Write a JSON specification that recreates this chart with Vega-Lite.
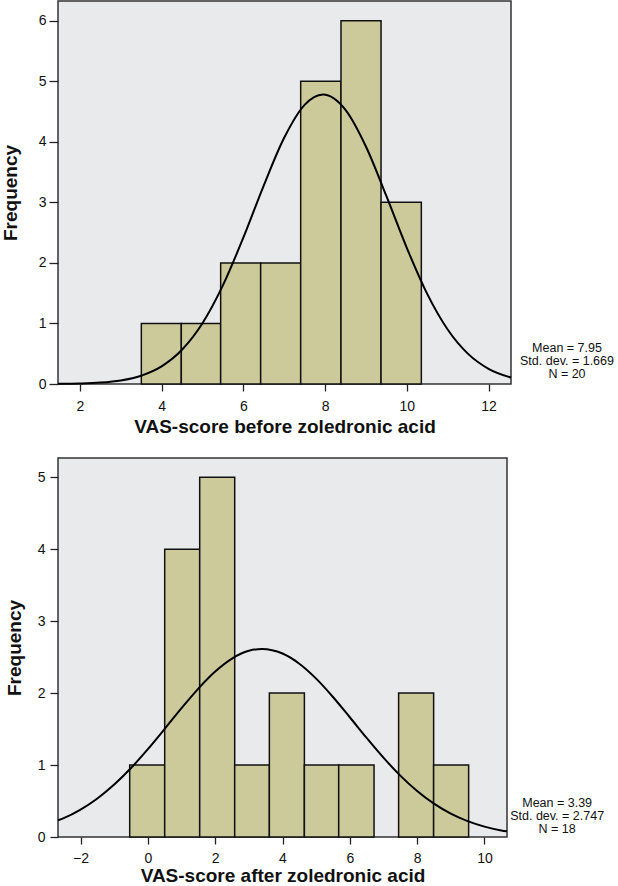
{
  "$schema": "https://vega.github.io/schema/vega-lite/v6.json",
  "padding": 0,
  "background": "white",
  "columns": 1,
  "spacing": 20,
  "config": {
    "font": "Liberation Sans",
    "view": {"stroke": "#333333", "strokeWidth": 1.5, "fill": "#E9EAEC"},
    "axis": {
      "domain": false,
      "grid": false,
      "tickColor": "#222222",
      "tickWidth": 1.3,
      "labelFont": "Liberation Sans",
      "labelFontSize": 14,
      "labelColor": "#111111",
      "titleFont": "Liberation Sans",
      "titleFontSize": 19,
      "titleFontWeight": "bold",
      "titleColor": "#111111"
    }
  },
  "datasets": {
    "before_bins": [
      {"start": 3.505, "end": 4.483, "count": 1},
      {"start": 4.483, "end": 5.446, "count": 1},
      {"start": 5.446, "end": 6.425, "count": 2},
      {"start": 6.425, "end": 7.404, "count": 2},
      {"start": 7.404, "end": 8.39, "count": 5},
      {"start": 8.39, "end": 9.37, "count": 6},
      {"start": 9.37, "end": 10.356, "count": 3}
    ],
    "before_curve": [
      {"x": 1.466, "y": 0.0026},
      {"x": 2.0, "y": 0.0083},
      {"x": 2.5, "y": 0.0231},
      {"x": 3.0, "y": 0.0588},
      {"x": 3.5, "y": 0.1368},
      {"x": 4.0, "y": 0.2907},
      {"x": 4.5, "y": 0.5647},
      {"x": 5.0, "y": 1.0027},
      {"x": 5.5, "y": 1.628},
      {"x": 6.0, "y": 2.416},
      {"x": 6.5, "y": 3.278},
      {"x": 7.0, "y": 4.066},
      {"x": 7.5, "y": 4.61},
      {"x": 7.95, "y": 4.781},
      {"x": 8.5, "y": 4.528},
      {"x": 9.0, "y": 3.923},
      {"x": 9.5, "y": 3.106},
      {"x": 10.0, "y": 2.249},
      {"x": 10.5, "y": 1.488},
      {"x": 11.0, "y": 0.9},
      {"x": 11.5, "y": 0.4978},
      {"x": 12.0, "y": 0.2517},
      {"x": 12.55, "y": 0.1072}
    ],
    "before_stats": [
      {"label": "Mean = 7.95\nStd. dev. = 1.669\nN = 20"}
    ],
    "after_bins": [
      {"start": -0.54, "end": 0.5, "count": 1},
      {"start": 0.5, "end": 1.54, "count": 4},
      {"start": 1.54, "end": 2.58, "count": 5},
      {"start": 2.58, "end": 3.61, "count": 1},
      {"start": 3.61, "end": 4.65, "count": 2},
      {"start": 4.65, "end": 5.67, "count": 1},
      {"start": 5.67, "end": 6.72, "count": 1},
      {"start": 7.45, "end": 8.49, "count": 2},
      {"start": 8.49, "end": 9.53, "count": 1}
    ],
    "after_curve": [
      {"x": -2.67, "y": 0.232},
      {"x": -2.5, "y": 0.2625},
      {"x": -2.0, "y": 0.3813},
      {"x": -1.5, "y": 0.5361},
      {"x": -1.0, "y": 0.729},
      {"x": -0.5, "y": 0.959},
      {"x": 0.0, "y": 1.2207},
      {"x": 0.5, "y": 1.5031},
      {"x": 1.0, "y": 1.7904},
      {"x": 1.5, "y": 2.063},
      {"x": 2.0, "y": 2.2999},
      {"x": 2.5, "y": 2.4804},
      {"x": 3.0, "y": 2.5878},
      {"x": 3.39, "y": 2.614},
      {"x": 4.0, "y": 2.5503},
      {"x": 4.5, "y": 2.4091},
      {"x": 5.0, "y": 2.2015},
      {"x": 5.5, "y": 1.9462},
      {"x": 6.0, "y": 1.6644},
      {"x": 6.5, "y": 1.3771},
      {"x": 7.0, "y": 1.1023},
      {"x": 7.5, "y": 0.8535},
      {"x": 8.0, "y": 0.6394},
      {"x": 8.5, "y": 0.4632},
      {"x": 9.0, "y": 0.3249},
      {"x": 9.5, "y": 0.2203},
      {"x": 10.0, "y": 0.1445},
      {"x": 10.5, "y": 0.0918},
      {"x": 10.67, "y": 0.0795}
    ],
    "after_stats": [
      {"label": "Mean = 3.39\nStd. dev. = 2.747\nN = 18"}
    ]
  },
  "concat": [
    {
      "width": 453,
      "height": 383,
      "layer": [
        {
          "data": {"name": "before_bins"},
          "mark": {"type": "rect", "fill": "#CCCA9B", "stroke": "#111111", "strokeWidth": 1.5},
          "encoding": {
            "x": {"field": "start", "type": "quantitative",
              "scale": {"domain": [1.466, 12.55], "nice": false, "zero": false},
              "axis": {"title": "VAS-score before zoledronic acid", "values": [2, 4, 6, 8, 10, 12], "format": "d", "tickSize": 7, "labelPadding": 8, "titlePadding": 4}},
            "x2": {"field": "end"},
            "y": {"field": "count", "type": "quantitative",
              "scale": {"domain": [0, 6.325], "nice": false},
              "axis": {"title": "Frequency", "values": [0, 1, 2, 3, 4, 5, 6], "format": "d", "tickSize": 9, "labelPadding": 3, "titlePadding": 18}},
            "y2": {"datum": 0}
          }
        },
        {
          "data": {"name": "before_curve"},
          "mark": {"type": "line", "color": "#000000", "strokeWidth": 2, "interpolate": "monotone"},
          "encoding": {
            "x": {"field": "x", "type": "quantitative"},
            "y": {"field": "y", "type": "quantitative"}
          }
        },
        {
          "data": {"name": "before_stats"},
          "mark": {"type": "text", "align": "center", "baseline": "bottom", "lineBreak": "\n", "fontSize": 12.5, "lineHeight": 13, "color": "#111111"},
          "encoding": {
            "x": {"datum": 13.92, "type": "quantitative"},
            "y": {"datum": 0.48, "type": "quantitative"},
            "text": {"field": "label", "type": "nominal"}
          }
        }
      ]
    },
    {
      "width": 449,
      "height": 379,
      "layer": [
        {
          "data": {"name": "after_bins"},
          "mark": {"type": "rect", "fill": "#CCCA9B", "stroke": "#111111", "strokeWidth": 1.5},
          "encoding": {
            "x": {"field": "start", "type": "quantitative",
              "scale": {"domain": [-2.67, 10.67], "nice": false, "zero": false},
              "axis": {"title": "VAS-score after zoledronic acid", "values": [-2, 0, 2, 4, 6, 8, 10], "format": "d", "tickSize": 7, "labelPadding": 7, "titlePadding": 1}},
            "x2": {"field": "end"},
            "y": {"field": "count", "type": "quantitative",
              "scale": {"domain": [0, 5.268], "nice": false},
              "axis": {"title": "Frequency", "values": [0, 1, 2, 3, 4, 5], "format": "d", "tickSize": 8, "labelPadding": 5, "titlePadding": 13}},
            "y2": {"datum": 0}
          }
        },
        {
          "data": {"name": "after_curve"},
          "mark": {"type": "line", "color": "#000000", "strokeWidth": 2, "interpolate": "monotone"},
          "encoding": {
            "x": {"field": "x", "type": "quantitative"},
            "y": {"field": "y", "type": "quantitative"}
          }
        },
        {
          "data": {"name": "after_stats"},
          "mark": {"type": "text", "align": "center", "baseline": "bottom", "lineBreak": "\n", "fontSize": 12.5, "lineHeight": 13, "color": "#111111"},
          "encoding": {
            "x": {"datum": 12.16, "type": "quantitative"},
            "y": {"datum": 0.38, "type": "quantitative"},
            "text": {"field": "label", "type": "nominal"}
          }
        }
      ]
    }
  ]
}
